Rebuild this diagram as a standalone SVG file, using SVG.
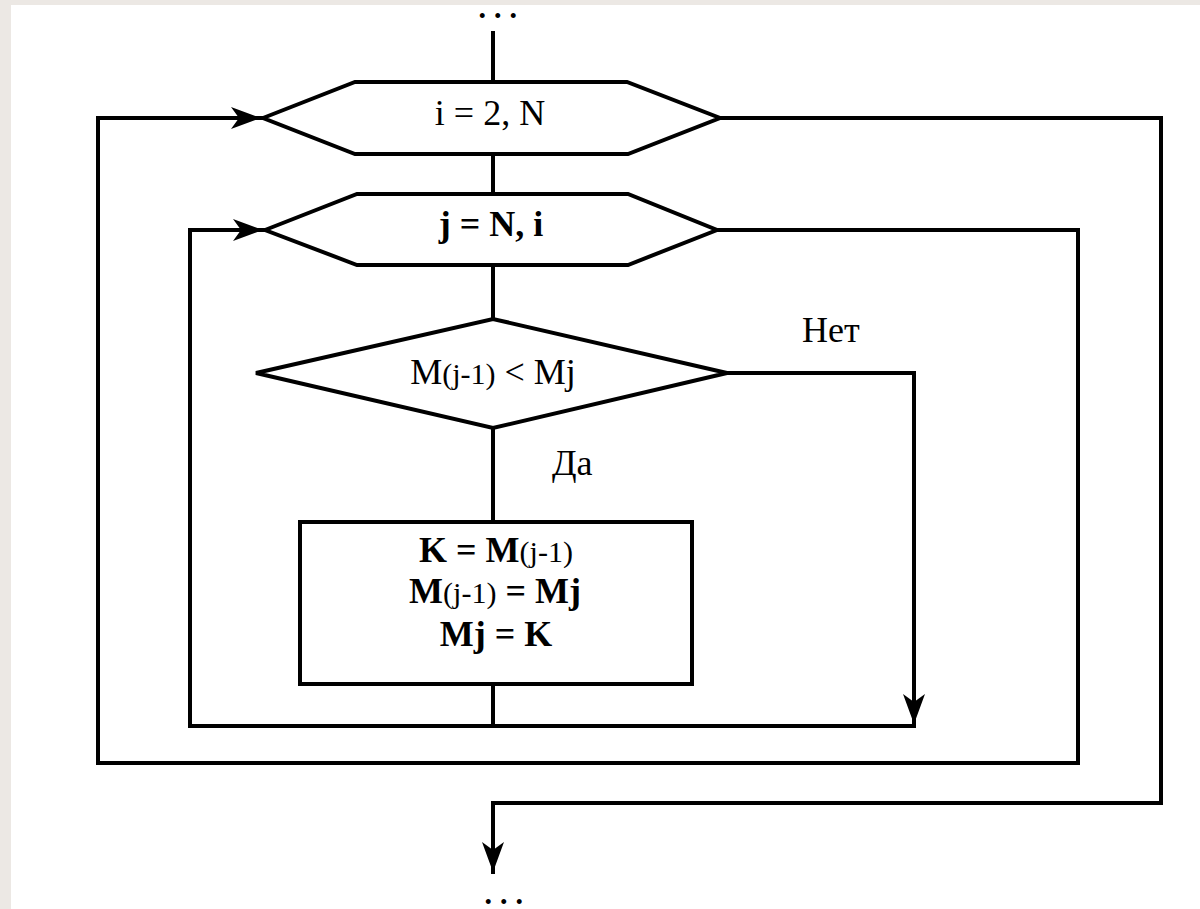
<svg xmlns="http://www.w3.org/2000/svg" width="1200" height="909" viewBox="0 0 1200 909">
<style>
.ln{fill:none;stroke:#000;stroke-width:4;stroke-linejoin:miter;stroke-linecap:square}
.sh{fill:#fff;stroke:#000;stroke-width:4;stroke-linejoin:miter}
.t{font-family:"Liberation Serif","Times New Roman",serif;font-size:36px;fill:#000}
.b{font-weight:bold}
.s{font-size:30px;font-weight:normal}
.dots{font-family:"Liberation Serif",serif;font-size:18px;font-weight:bold;letter-spacing:11px;fill:#000;stroke:#000;stroke-width:2}
</style>
<defs>
<marker id="ar" markerUnits="userSpaceOnUse" markerWidth="34" markerHeight="24" refX="32" refY="11" orient="auto">
<path d="M32,11 L2,0 L10,11 L2,22 Z" fill="#000"/>
</marker>
</defs>
<rect x="0" y="0" width="1200" height="909" fill="#ece8e4"/>
<rect x="11" y="5" width="1189" height="904" fill="#fff"/>
<text class="dots" x="480" y="17">...</text>
<text class="dots" x="486" y="903">...</text>
<g id="connectors">
<path class="ln" d="M493,33 V82"/>
<path class="ln" d="M493,154 V194"/>
<path class="ln" d="M493,265 V319"/>
<path class="ln" d="M493,428 V522"/>
<path class="ln" d="M493,684 V726"/>
<path class="ln" d="M727,373 H914 V724" marker-end="url(#ar)"/>
<path class="ln" d="M914,726 H190 V230 H263" marker-end="url(#ar)"/>
<path class="ln" d="M717,230 H1078 V763 H98 V118 H261" marker-end="url(#ar)"/>
<path class="ln" d="M720,118 H1161 V803 H493 V872" marker-end="url(#ar)"/>
</g>
<g id="loop-i">
<polygon class="sh" points="263,118 355,82 627,82 720,118 628,154 355,154"/>
<text class="t" x="490" y="125" text-anchor="middle">i = 2, N</text>
</g>
<g id="loop-j">
<polygon class="sh" points="265,230 357,194 628,194 717,230 628,265 357,265"/>
<text class="t b" x="491" y="236" text-anchor="middle">j = N, i</text>
</g>
<g id="cond">
<polygon class="sh" points="256,373 493,319 727,373 493,428"/>
<text class="t" x="493" y="384" text-anchor="middle">M<tspan class="s">(j-1)</tspan> &lt; Mj</text>
</g>
<g id="swap">
<rect class="sh" x="300" y="522" width="392" height="162"/>
<text class="t b" x="496" y="562" text-anchor="middle">K = M<tspan class="s">(j-1)</tspan></text>
<text class="t b" x="495" y="603" text-anchor="middle">M<tspan class="s">(j-1)</tspan> = Mj</text>
<text class="t b" x="496" y="646" text-anchor="middle">Mj = K</text>
</g>
<g id="labels">
<text class="t" x="552" y="475">Да</text>
<text class="t" x="802" y="342">Нет</text>
</g>
</svg>
